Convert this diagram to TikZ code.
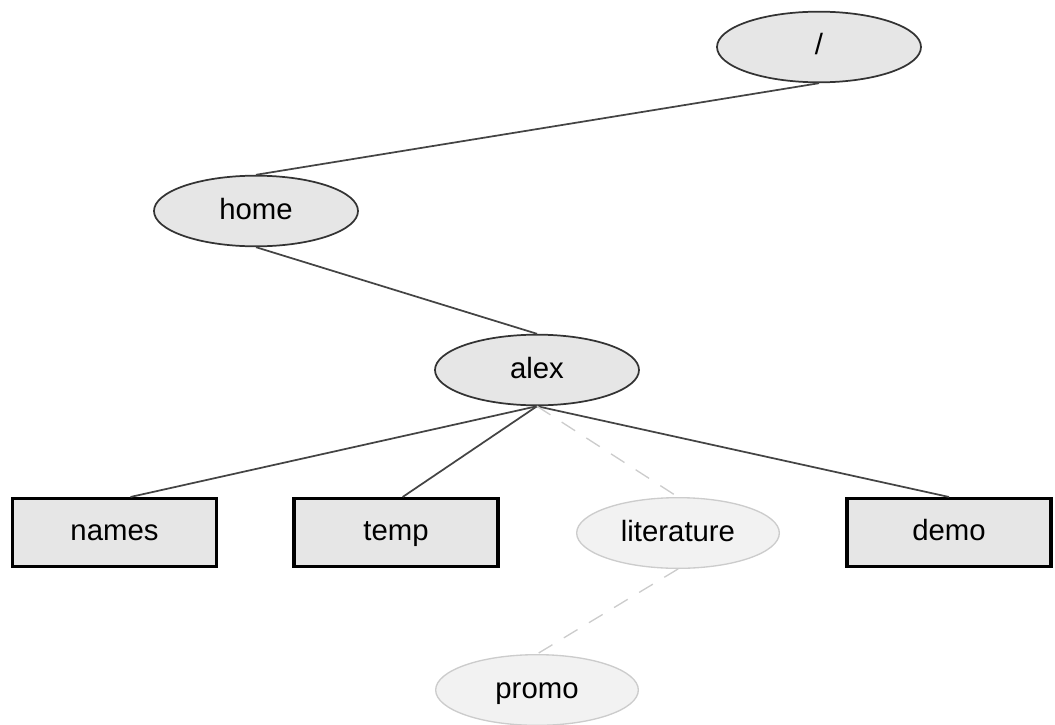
\documentclass[tikz,border=0pt]{standalone}
\usepackage{fontspec}
\setmainfont{Liberation Sans}
\usetikzlibrary{shapes.geometric}
\definecolor{nodefill}{HTML}{E6E6E6}
\definecolor{ghostfill}{HTML}{F2F2F2}
\definecolor{ghostline}{HTML}{CCCCCC}
\definecolor{edgecol}{HTML}{444444}
\begin{document}
\begin{tikzpicture}[x=0.75pt,y=-0.75pt,
  labelfont/.style={font=\fontsize{22}{26}\selectfont,text height=16pt,text depth=4pt},
  dirnode/.style={ellipse,draw=black!80,line width=1.3pt,fill=nodefill,
    minimum width=153pt,minimum height=53pt,inner sep=0pt,labelfont},
  ghostnode/.style={ellipse,draw=ghostline,line width=1pt,fill=ghostfill,
    minimum width=152pt,minimum height=53pt,inner sep=0pt,labelfont},
  filenode/.style={rectangle,draw=black,line width=2.3pt,fill=nodefill,
    minimum width=153pt,minimum height=51pt,inner sep=0pt,labelfont},
  edge/.style={draw=edgecol,line width=1.3pt},
  ghostedge/.style={draw=ghostline,line width=1pt,dash pattern=on 12pt off 10pt}]
\useasboundingbox (0,0) rectangle (1055,724);
\node[dirnode] (root) at (819,47) {/};
\node[dirnode] (home) at (256,211) {home};
\node[dirnode] (alex) at (537,370) {alex};
\node[filenode] (names) at (114.5,532.5) {names};
\node[filenode] (temp) at (396,532.5) {temp};
\node[ghostnode] (lit) at (678,533) {literature};
\node[filenode] (demo) at (949,532.5) {demo};
\node[ghostnode] (promo) at (537,690) {promo};
\draw[edge] (root.south) -- (home.north);
\draw[edge] (home.south) -- (alex.north);
\draw[edge] (alex.south) -- ([xshift=12pt]names.north);
\draw[edge] (alex.south) -- ([xshift=5pt]temp.north);
\draw[edge] (alex.south) -- (demo.north);
\draw[ghostedge] (alex.south) -- (lit.north);
\draw[ghostedge] (lit.south) -- (promo.north);
\end{tikzpicture}
\end{document}
